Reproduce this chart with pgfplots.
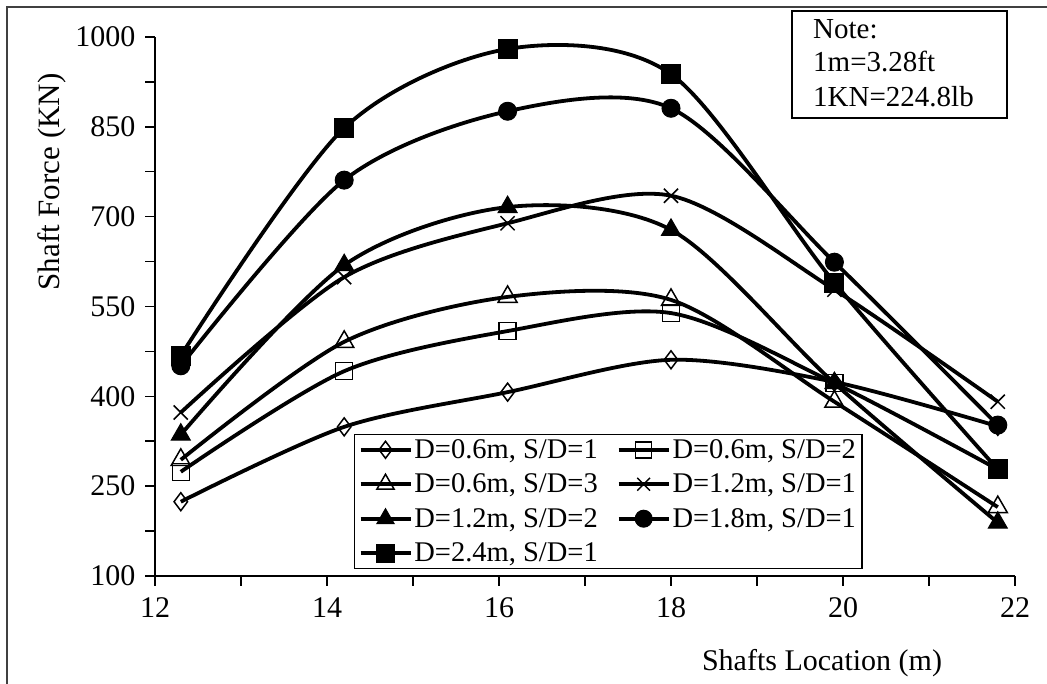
\documentclass[border=0pt]{standalone}
\usepackage{fontspec}
\setmainfont{Liberation Serif}
\usepackage{pgfplots}
\pgfplotsset{compat=1.18}
\begin{document}
\begin{tikzpicture}[x=1pt,y=1pt]
\useasboundingbox (0,0) rectangle (1047,684);
\draw[line width=1.5pt, black!75] (7,0) -- (7,677) -- (1047,677);
\begin{axis}[
  at={(155pt,108pt)}, anchor=south west,
  scale only axis, width=860pt, height=539pt,
  xmin=12, xmax=22, ymin=100, ymax=1000,
  xtick={12,14,...,22}, minor xtick={13,15,...,21},
  ytick={100,250,...,1000}, minor ytick={175,325,...,925},
  axis lines*=left,
  tick align=outside, major tick length=10pt, minor tick length=10pt,
  every tick/.style={black, line width=1.5pt},
  axis line style={line width=1.5pt},
  tick label style={font=\fontsize{30}{30}\selectfont},
  yticklabel style={xshift=-6pt},
  xticklabel style={yshift=-8pt},
  /pgf/number format/assume math mode=true,
  /pgf/number format/1000 sep={},
  legend columns=2,
  legend cell align=left,
  legend style={at={(rel axis cs:0.2314,0.2635)}, anchor=north west, draw=black, line width=1.2pt, fill=white,
    font=\fontsize{28.5}{28.5}\selectfont, inner xsep=4pt, inner ysep=3pt,
    nodes={inner sep=2pt},
    row sep=10pt,
    /tikz/every even column/.append style={column sep=17pt}},
  legend image code/.code={%
    \draw[line width=3.8pt, mark=none, solid] (0pt,0pt) -- (50pt,0pt);
    \draw plot coordinates {(25pt,0pt)};},
]
\addplot[forget plot, black, line width=3.8pt, smooth, mark=diamond, mark size=9pt, mark options={solid, fill=white, line width=1.5pt}] coordinates {
(12.3,224) (14.2,349) (16.1,407) (18.0,461) (19.9,424) (21.8,350)};
\addplot[forget plot, black, line width=3.8pt, smooth, mark=square, mark size=8.5pt, mark options={solid, fill=white, line width=1.5pt}] coordinates {
(12.3,274) (14.2,442) (16.1,509) (18.0,539) (19.9,422) (21.8,278)};
\addplot[forget plot, black, line width=3.8pt, smooth, mark=triangle, mark size=11pt, mark options={solid, fill=white, line width=1.5pt}] coordinates {
(12.3,294) (14.2,491) (16.1,566) (18.0,561) (19.9,391) (21.8,215)};
\addplot[forget plot, black, line width=3.8pt, smooth, mark=x, mark size=10pt, mark options={solid, line width=1.5pt}] coordinates {
(12.3,373) (14.2,599) (16.1,689) (18.0,735) (19.9,578) (21.8,391)};
\addplot[forget plot, black, line width=3.8pt, smooth, mark=triangle*, mark size=11pt, mark options={solid, fill=black, line width=1pt}] coordinates {
(12.3,336) (14.2,619) (16.1,716) (18.0,678) (19.9,422) (21.8,189)};
\addplot[forget plot, black, line width=3.8pt, smooth, mark=*, mark size=9pt, mark options={solid, fill=black, line width=1pt}] coordinates {
(12.3,451) (14.2,761) (16.1,876) (18.0,881) (19.9,624) (21.8,352)};
\addplot[forget plot, black, line width=3.8pt, smooth, mark=square*, mark size=9.5pt, mark options={solid, fill=black, line width=1pt}] coordinates {
(12.3,468) (14.2,848) (16.1,980) (18.0,938) (19.9,590) (21.8,278)};
\addlegendimage{black, line width=3.8pt, mark=diamond, mark size=8.5pt, mark options={solid, fill=white, line width=1.5pt}}
\addlegendentry{D=0.6m, S/D=1}
\addlegendimage{black, line width=3.8pt, mark=square, mark size=8pt, mark options={solid, fill=white, line width=1.5pt}}
\addlegendentry{D=0.6m, S/D=2}
\addlegendimage{black, line width=3.8pt, mark=triangle, mark size=10pt, mark options={solid, fill=white, line width=1.5pt}}
\addlegendentry{D=0.6m, S/D=3}
\addlegendimage{black, line width=3.8pt, mark=x, mark size=9pt, mark options={solid, line width=1.5pt}}
\addlegendentry{D=1.2m, S/D=1}
\addlegendimage{black, line width=3.8pt, mark=triangle*, mark size=10pt, mark options={solid, fill=black, line width=1pt}}
\addlegendentry{D=1.2m, S/D=2}
\addlegendimage{black, line width=3.8pt, mark=*, mark size=8.5pt, mark options={solid, fill=black, line width=1pt}}
\addlegendentry{D=1.8m, S/D=1}
\addlegendimage{black, line width=3.8pt, mark=square*, mark size=9pt, mark options={solid, fill=black, line width=1pt}}
\addlegendentry{D=2.4m, S/D=1}
\end{axis}
\node[rotate=90, font=\fontsize{31}{31}\selectfont] at (52,502) {Shaft Force (KN)};
\node[font=\fontsize{30}{30}\selectfont] at (822,21) {Shafts Location (m)};
\draw[line width=1.2pt] (792,566) rectangle (1007,673);
\node[anchor=base west, inner sep=0pt, font=\fontsize{29}{29}\selectfont] at (813,645) {Note:};
\node[anchor=base west, inner sep=0pt, font=\fontsize{29}{29}\selectfont] at (813,612) {1m=3.28ft};
\node[anchor=base west, inner sep=0pt, font=\fontsize{29}{29}\selectfont] at (813,577) {1KN=224.8lb};
\end{tikzpicture}
\end{document}
